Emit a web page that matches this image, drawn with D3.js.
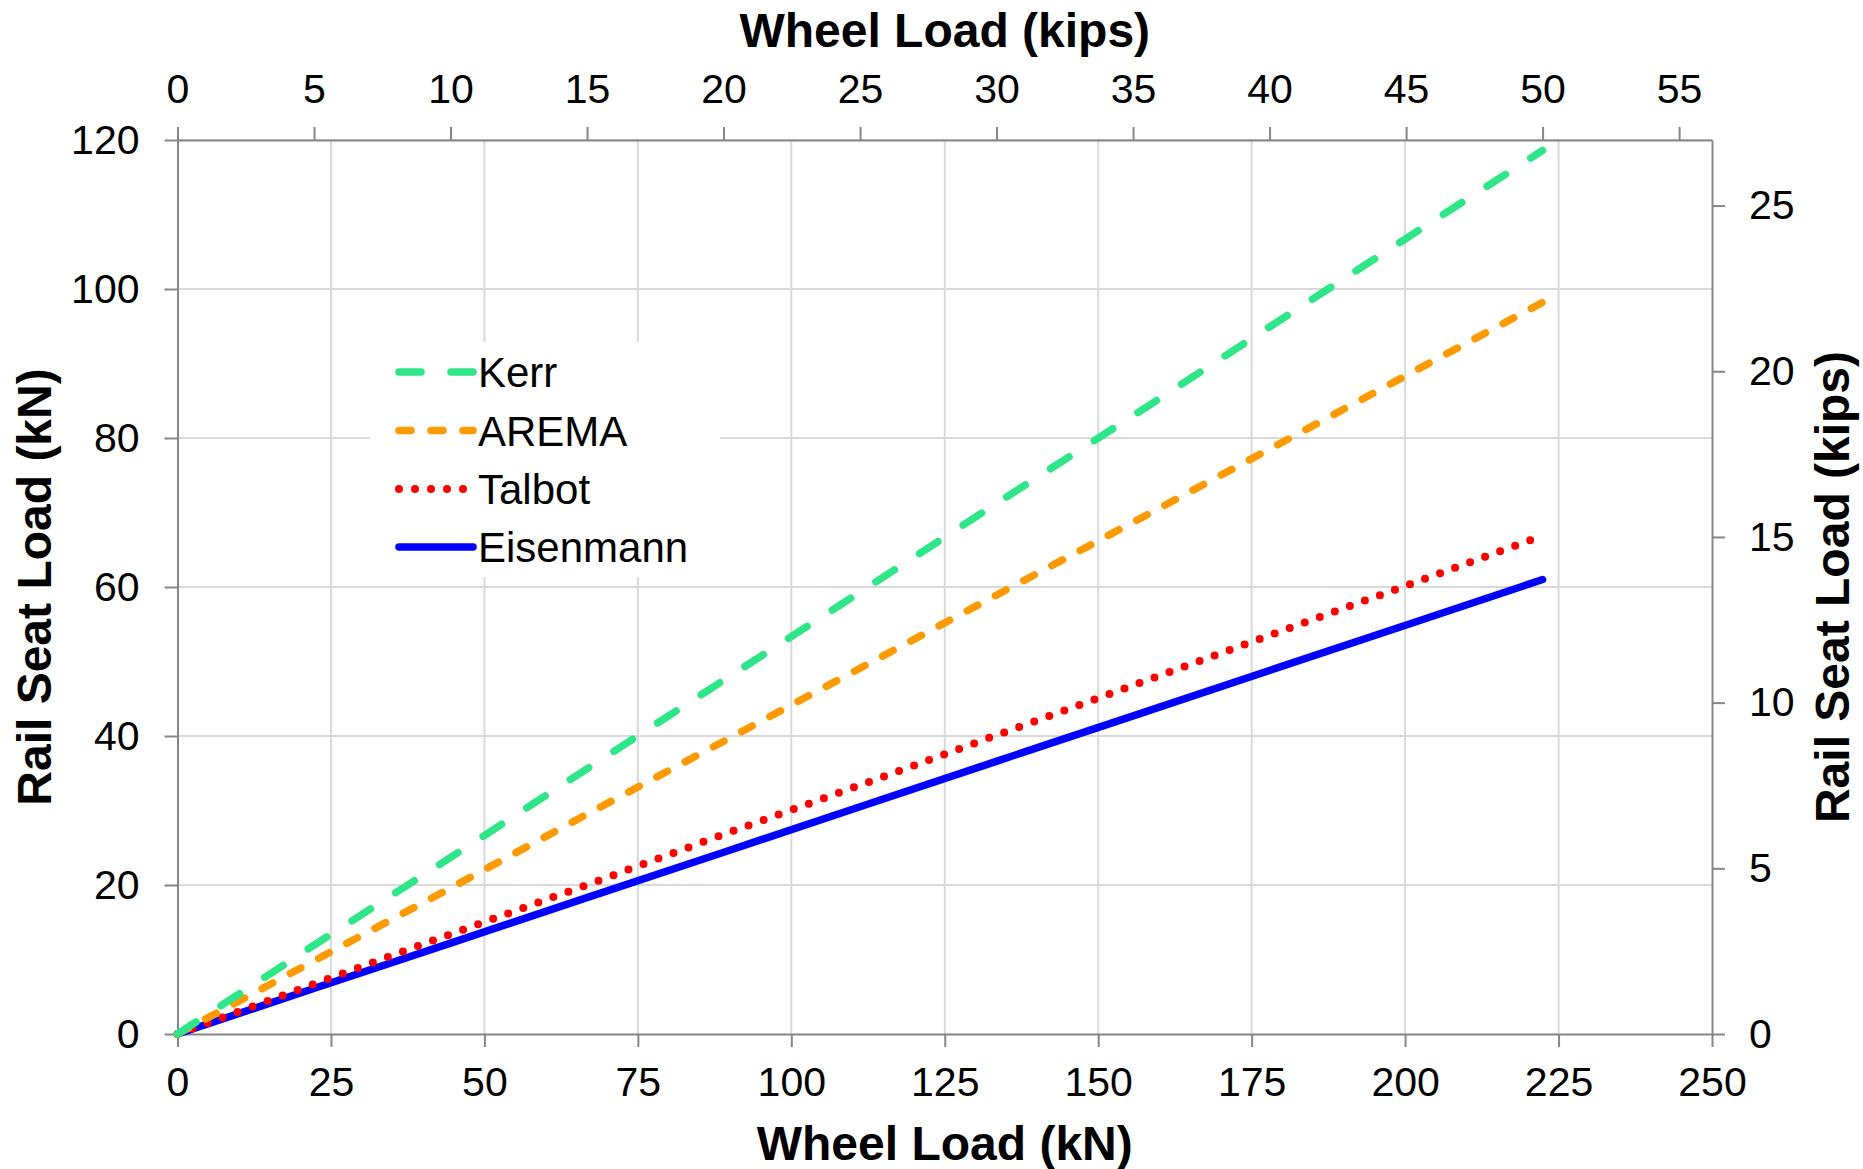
<!DOCTYPE html>
<html><head><meta charset="utf-8">
<script src="https://cdn.jsdelivr.net/npm/d3@7"></script>
<style>body{margin:0;background:#fff}svg{display:block;font-family:"Liberation Sans",Arial,sans-serif}</style>
</head><body>
<script>
// Data (wheel load in kN, rail seat load in kN)
const wheelLoadKN = [0, 22.2, 44.5, 66.7, 89.0, 111.2, 133.4, 155.7, 177.9, 200.2, 222.4];
const kerr      = [0, 11.9, 23.7, 35.6, 47.5, 59.3, 71.2, 83.0, 94.9, 106.8, 118.6];
const arema     = [0, 9.8, 19.6, 29.5, 39.3, 49.1, 58.9, 68.7, 78.5, 88.4, 98.2];
const talbot    = [0, 6.7, 13.4, 20.0, 26.8, 33.4, 40.1, 46.8, 53.5, 60.2, 66.9];
const eisenmann = [0, 6.1, 12.2, 18.3, 24.4, 30.5, 36.6, 42.7, 48.8, 54.9, 61.0];
const seriesNames = ["Kerr", "AREMA", "Talbot", "Eisenmann"];
const xTicksKN = [0, 25, 50, 75, 100, 125, 150, 175, 200, 225, 250];
const yTicksKN = [0, 20, 40, 60, 80, 100, 120];
const xTicksKips = [0, 5, 10, 15, 20, 25, 30, 35, 40, 45, 50, 55];
const yTicksKips = [0, 5, 10, 15, 20, 25];
const KN_PER_KIP = 4.448;

const W = 1863, H = 1169;
const m = {left: 177.5, top: 140, right: 151, bottom: 135};
const pw = W - m.left - m.right, ph = H - m.top - m.bottom;

const svg = d3.select("body").append("svg").attr("width", W).attr("height", H);
const g = svg.append("g").attr("transform", `translate(${m.left},${m.top})`);

const x = d3.scaleLinear().domain([0, 250]).range([0, pw]);
const y = d3.scaleLinear().domain([0, 120]).range([ph, 0]);
const xK = d3.scaleLinear().domain([0, 250 / KN_PER_KIP]).range([0, pw]);
const yK = d3.scaleLinear().domain([0, 120 / KN_PER_KIP]).range([ph, 0]);

// gridlines
g.append("g").selectAll("line").data(xTicksKN.slice(1, -1)).join("line")
  .attr("x1", d => x(d)).attr("x2", d => x(d)).attr("y1", 0).attr("y2", ph)
  .attr("stroke", "#d9d9d9").attr("stroke-width", 2);
g.append("g").selectAll("line").data(yTicksKN.slice(1)).join("line")
  .attr("y1", d => y(d)).attr("y2", d => y(d)).attr("x1", 0).attr("x2", pw)
  .attr("stroke", "#d9d9d9").attr("stroke-width", 2);

// axes
function styleAxis(sel) {
  sel.select(".domain").attr("stroke", "#868686").attr("stroke-width", 2);
  sel.selectAll(".tick line").attr("stroke", "#868686").attr("stroke-width", 2);
  sel.selectAll(".tick text").attr("fill", "#000").style("font-size", "41px")
     .style("font-family", '"Liberation Sans", Arial, sans-serif');
}
const fmt = d3.format("d");
g.append("g").attr("transform", `translate(0,${ph})`)
  .call(d3.axisBottom(x).tickValues(xTicksKN).tickFormat(fmt).tickSize(13).tickSizeOuter(0).tickPadding(20))
  .call(styleAxis);
g.append("g")
  .call(d3.axisLeft(y).tickValues(yTicksKN).tickFormat(fmt).tickSize(13).tickSizeOuter(0).tickPadding(25))
  .call(styleAxis);
g.append("g")
  .call(d3.axisTop(xK).tickValues(xTicksKips).tickFormat(fmt).tickSize(13).tickSizeOuter(0).tickPadding(24))
  .call(styleAxis);
g.append("g").attr("transform", `translate(${pw},0)`)
  .call(d3.axisRight(yK).tickValues(yTicksKips).tickFormat(fmt).tickSize(13).tickSizeOuter(0).tickPadding(24))
  .call(styleAxis);

// series
const styles = {
  Kerr: {color: "#2ee688", dash: "22 30", width: 7.5},
  AREMA: {color: "#ff9900", dash: "12 20", width: 7.5},
  Talbot: {color: "#ff0000", dash: "0 16", width: 8},
  Eisenmann: {color: "#0000ff", dash: null, width: 7.5}
};
const seriesData = {Kerr: kerr, AREMA: arema, Talbot: talbot, Eisenmann: eisenmann};
const line = d3.line().x(d => x(d[0])).y(d => y(d[1]));
["Eisenmann", "Talbot", "AREMA", "Kerr"].forEach(name => {
  const s = styles[name];
  g.append("path")
    .datum(wheelLoadKN.map((w, i) => [w, seriesData[name][i]]))
    .attr("d", line).attr("fill", "none")
    .attr("stroke", s.color).attr("stroke-width", s.width)
    .attr("stroke-linecap", "round")
    .attr("stroke-dasharray", s.dash);
});

// legend
const lg = svg.append("g");
lg.append("rect").attr("x", 370).attr("y", 342).attr("width", 350).attr("height", 235).attr("fill", "#fff");
const rowY = [372, 430.5, 489, 547];
seriesNames.forEach((name, i) => {
  const s = styles[name];
  lg.append("line").attr("x1", 399).attr("x2", 473).attr("y1", rowY[i]).attr("y2", rowY[i])
    .attr("stroke", s.color).attr("stroke-width", s.width).attr("stroke-linecap", "round")
    .attr("stroke-dasharray", s.dash);
  lg.append("text").attr("x", 478).attr("y", rowY[i]).attr("dy", "0.36em")
    .style("font-size", "42px").attr("fill", "#000").text(name);
});

// titles
svg.append("text").attr("x", m.left + pw / 2).attr("y", 1160).attr("text-anchor", "middle")
  .style("font-size", "48px").style("font-weight", "bold").text("Wheel Load (kN)");
svg.append("text").attr("x", m.left + pw / 2).attr("y", 47).attr("text-anchor", "middle")
  .style("font-size", "48px").style("font-weight", "bold").text("Wheel Load (kips)");
svg.append("text").attr("transform", `translate(51,${m.top + ph / 2}) rotate(-90)`).attr("text-anchor", "middle")
  .style("font-size", "48px").style("font-weight", "bold").text("Rail Seat Load (kN)");
svg.append("text").attr("transform", `translate(1849,${m.top + ph / 2}) rotate(-90)`).attr("text-anchor", "middle")
  .style("font-size", "48px").style("font-weight", "bold").text("Rail Seat Load (kips)");
</script>
</body></html>
